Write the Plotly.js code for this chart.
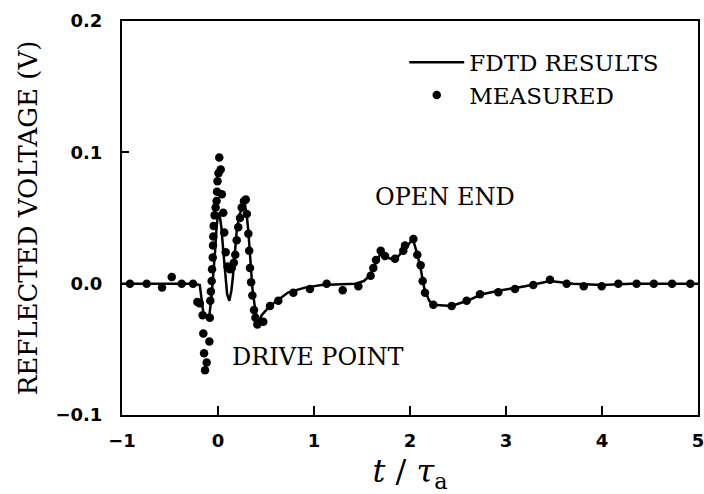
<!DOCTYPE html>
<html>
<head>
<meta charset="utf-8">
<script src="https://cdn.plot.ly/plotly-3.0.1.min.js"></script>
<style>html,body{margin:0;padding:0;background:#fff;}#chart{width:704px;height:494px;}</style>
</head>
<body>
<div id="chart"></div>
<script>
// FDTD results (solid line): time t/tau and reflected voltage (V)
const fdtdT = [-1.0,-0.5,-0.25,-0.19,-0.17,-0.153,-0.12,-0.09,-0.07,-0.055,-0.03,-0.015,0.0,0.014,0.035,0.055,0.075,0.095,0.118,0.14,0.155,0.175,0.195,0.22,0.25,0.281,0.30,0.316,0.335,0.36,0.385,0.41,0.43,0.455,0.54,0.63,0.733,0.906,1.08,1.43,1.52,1.58,1.63,1.70,1.76,1.84,1.93,2.03,2.07,2.11,2.15,2.20,2.24,2.43,2.6,2.75,2.95,3.2,3.46,3.7,4.0,4.3,5.0];
const fdtdV = [0,0,0,-0.001,-0.012,-0.022,-0.024,-0.024,-0.012,0.0,0.025,0.043,0.052,0.054,0.043,0.025,0.005,-0.008,-0.013,-0.005,0.005,0.025,0.040,0.052,0.057,0.060,0.052,0.040,0.018,-0.005,-0.018,-0.029,-0.029,-0.024,-0.017,-0.012,-0.0066,-0.003,-0.001,0.0,0.002,0.006,0.014,0.024,0.020,0.018,0.025,0.034,0.024,0.012,-0.004,-0.013,-0.016,-0.017,-0.013,-0.008,-0.005,-0.002,0.002,0.0,-0.001,0.0,0.0];

// Measured (dots)
const measT = [-0.917,-0.743,-0.583,-0.482,-0.378,-0.26,-0.215,-0.19,-0.16,-0.153,-0.145,-0.135,-0.118,-0.09,-0.085,-0.08,-0.074,-0.066,-0.062,-0.055,-0.052,-0.049,-0.045,-0.035,-0.025,-0.015,-0.01,-0.005,0.005,0.013,0.028,0.04,0.055,0.065,0.08,0.10,0.125,0.143,0.165,0.18,0.195,0.211,0.229,0.247,0.27,0.29,0.30,0.316,0.325,0.333,0.345,0.358,0.375,0.39,0.41,0.472,0.542,0.628,0.785,0.958,1.132,1.299,1.462,1.59,1.618,1.646,1.695,1.74,1.844,1.93,1.948,2.035,2.076,2.111,2.132,2.156,2.243,2.434,2.59,2.729,2.92,3.094,3.284,3.458,3.632,3.81,3.997,4.17,4.36,4.54,4.73,4.92];
const measV = [0,0,-0.003,0.005,0,0,-0.014,-0.015,-0.024,-0.038,-0.053,-0.066,-0.060,-0.044,-0.026,-0.013,-0.006,0.002,0.011,0.020,0.029,0.036,0.044,0.052,0.058,0.063,0.070,0.078,0.084,0.096,0.087,0.068,0.054,0.039,0.024,0.013,0.011,0.012,0.016,0.022,0.033,0.043,0.050,0.058,0.063,0.064,0.053,0.038,0.025,0.012,0.001,-0.009,-0.020,-0.026,-0.031,-0.029,-0.017,-0.013,-0.007,-0.004,0.0,-0.005,-0.002,0.006,0.012,0.018,0.025,0.021,0.019,0.025,0.029,0.034,0.022,0.014,0.002,-0.007,-0.016,-0.017,-0.013,-0.008,-0.0066,-0.004,-0.001,0.003,0.0,-0.002,-0.002,0,0,0,0,0];

const xTicks = [-1,0,1,2,3,4,5];
const yTicks = [-0.1,0.0,0.1,0.2];

const serif = "DejaVu Serif";
const sans = "DejaVu Sans";

const traces = [
  {x: fdtdT, y: fdtdV, mode: 'lines', name: 'FDTD RESULTS',
   line: {color: '#000', width: 2.5}},
  {x: measT, y: measV, mode: 'markers', name: 'MEASURED',
   marker: {color: '#000', size: 8.5, symbol: 'circle'}}
];

const layout = {
  width: 704, height: 494,
  margin: {l: 122, r: 6, t: 21, b: 79},
  paper_bgcolor: '#fff', plot_bgcolor: '#fff',
  showlegend: true,
  legend: {x: 0.49, y: 0.95, xanchor: 'left', yanchor: 'top',
    font: {family: serif, size: 23, color: '#000'}, bgcolor: 'rgba(0,0,0,0)',
    itemwidth: 55, tracegroupgap: 0},
  xaxis: {range: [-1, 5], tickvals: xTicks, ticks: 'inside', ticklen: 9, tickwidth: 2,
    tickcolor: '#000', showline: true, linecolor: '#000', linewidth: 2, mirror: true,
    showgrid: false, zeroline: false, ticklabeloverflow: 'allow',
    tickfont: {family: sans, size: 18, color: '#000', weight: 'bold'},
    ticklabelstandoff: 8,
    title: {text: '<i>t</i> / <i>τ</i><sub>a</sub>', font: {family: serif, size: 32, color: '#000'}, standoff: 34}},
  yaxis: {range: [-0.1, 0.2], tickvals: yTicks, tickformat: '.1f', ticks: 'inside', ticklen: 7, tickwidth: 2,
    tickcolor: '#000', showline: true, linecolor: '#000', linewidth: 2, mirror: true,
    showgrid: false, zeroline: false,
    tickfont: {family: sans, size: 18, color: '#000', weight: 'bold'},
    ticklabelstandoff: 14,
    title: {text: 'REFLECTED VOLTAGE (V)', font: {family: serif, size: 26, color: '#000'}, standoff: 10}},
  annotations: [
    {x: 2.365, y: 0.066, xref: 'x', yref: 'y', text: 'OPEN END', showarrow: false,
     font: {family: serif, size: 24, color: '#000'}},
    {x: 1.04, y: -0.056, xref: 'x', yref: 'y', text: 'DRIVE POINT', showarrow: false,
     font: {family: serif, size: 24, color: '#000'}}
  ]
};

Plotly.newPlot('chart', traces, layout, {displayModeBar: false, staticPlot: true});
</script>
</body>
</html>
